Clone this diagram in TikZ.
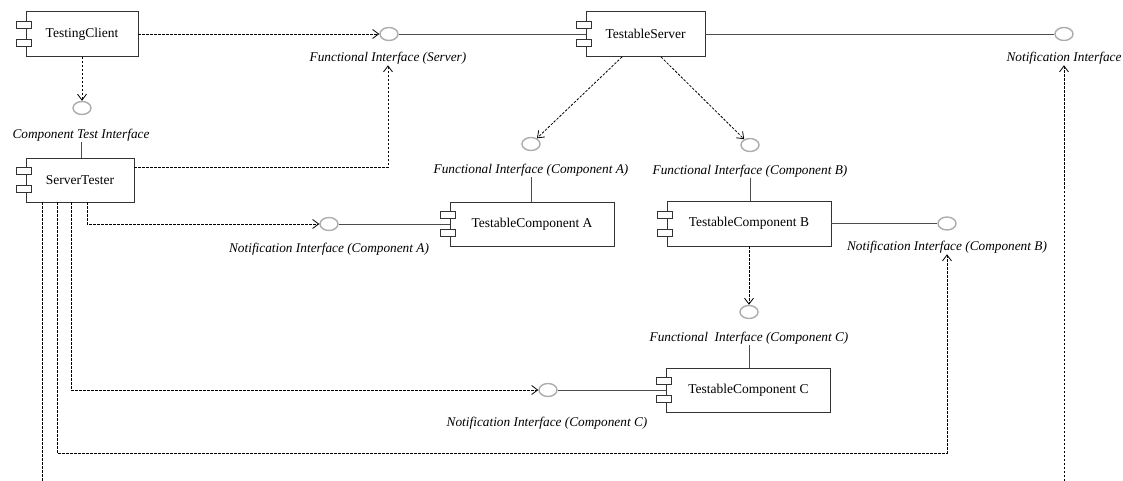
\documentclass[tikz,border=0pt]{standalone}
\usepackage{fontspec}
\setmainfont{Liberation Serif}
\tikzset{dep/.style = {dash pattern=on 2.5pt off 1.5pt, line width=.8pt, -{Straight Barb[length=6pt,width=9pt]}}}
\tikzset{wire/.style = {line width=.9pt, black!70}}
\tikzset{port/.style = {fill=white, draw=black!80, line width=.9pt}}
\usetikzlibrary{arrows.meta,
                 shapes.geometric}

\begin{document}
\begin{tikzpicture}[x=1pt,y=-1pt,
    comp/.style={draw=black!80, line width=.9pt, fill=white,
        minimum height=45pt, inner sep=0,
        font={\fontsize{13.5}{16}\selectfont}},
    iface/.style={ellipse, draw=gray!65, line width=1.4pt,
        minimum width=18pt, minimum height=13pt, inner sep=0},
    ilabel/.style={font={\fontsize{13.3}{16}\selectfont\itshape}, inner sep=1pt},
    ]
    \useasboundingbox (0,0) rectangle (1123,481);

    % Components
    \node[comp, minimum width=112pt] (client) at (82,34) {TestingClient};
    \node[comp, minimum width=108pt, minimum height=44pt] (tester) at (80,180) {ServerTester};
    \node[comp, minimum width=119pt] (server) at (645.5,34) {TestableServer};
    \node[comp, minimum width=164pt, minimum height=44pt] (compA) at (532,224) {TestableComponent A};
    \node[comp, minimum width=164pt] (compB) at (749,223.5) {TestableComponent B};
    \node[comp, minimum width=164pt, minimum height=44pt] (compC) at (748.5,390) {TestableComponent C};

    % Ports
    \foreach \n in {client,tester,server,compA,compB,compC}{
        \draw[port] ([xshift=-9.5pt,yshift=5.5pt]\n.west) rectangle ++(15pt,7pt);
        \draw[port] ([xshift=-9.5pt,yshift=-12.5pt]\n.west) rectangle ++(15pt,7pt);
    }

    % Interfaces
    \node[iface] (fis) at (389,34) {};
    \node[iface] (ni) at (1064,34) {};
    \node[iface] (cti) at (82,108) {};
    \node[iface] (fia) at (531,144) {};
    \node[iface] (fib) at (750,145) {};
    \node[iface] (nia) at (329,224) {};
    \node[iface] (nib) at (947,223.5) {};
    \node[iface] (fic) at (749,312) {};
    \node[iface] (nic) at (548,390) {};

    % Interface names
    \node[ilabel] (fisl) at (388,58) {Functional Interface (Server)};
    \node[ilabel] (nil) at (1064,58) {Notification Interface};
    \node[ilabel] (ctil) at (81,135) {Component Test Interface};
    \node[ilabel] (fial) at (531,170) {Functional Interface (Component A)};
    \node[ilabel] (fibl) at (750,171) {Functional Interface (Component B)};
    \node[ilabel] (nial) at (329,249) {Notification Interface (Component A)};
    \node[ilabel] (nibl) at (947,247) {Notification Interface (Component B)};
    \node[ilabel] (ficl) at (749,338) {Functional~ Interface (Component C)};
    \node[ilabel] (nicl) at (547,423) {Notification Interface (Component C)};

    % Provided interfaces
    \draw[wire] (fis) -- (server.west);
    \draw[wire] (server.east) -- (ni);
    \draw[wire] (nia) -- (compA.west);
    \draw[wire] (compB.east) -- (nib);
    \draw[wire] (nic) -- (compC.west);
    \draw[wire] (ctil.south) -- (ctil.south |- tester.north);
    \draw[wire] (fial.south) -- (fial.south |- compA.north);
    \draw[wire] (fibl.south) -- (fibl.south |- compB.north);
    \draw[wire] (ficl.south) -- (ficl.south |- compC.north);

    % Dependencies
    \coordinate (low) at (500,453);
    \coordinate (endL) at (42,481);
    \coordinate (endR) at (1064,481);
    \draw[dep] (client) -- (cti);
    \draw[dep] (client) -- (fis);
    \draw[dep] ([yshift=-10pt]tester.north east) -| (fisl.south);
    \draw[dep] ([xshift=-23.5pt]server.south) -- (fia);
    \draw[dep] ([xshift=15.5pt]server.south) -- (fib);
    \draw[dep] (compB) -- (fic);
    \draw[dep] ([xshift=7pt]tester.south) |- (nia);
    \draw[dep] ([xshift=-9pt]tester.south) |- (nic);
    \draw[dep] ([xshift=-23pt]tester.south) |- (nibl.south |- low) -- (nibl.south);
    \draw[dash pattern=on 2.5pt off 1.5pt, line width=.8pt] ([xshift=-38pt]tester.south) -- (endL);
    \draw[dep] (endR) -- (nil.south);

\end{tikzpicture}
\end{document}
